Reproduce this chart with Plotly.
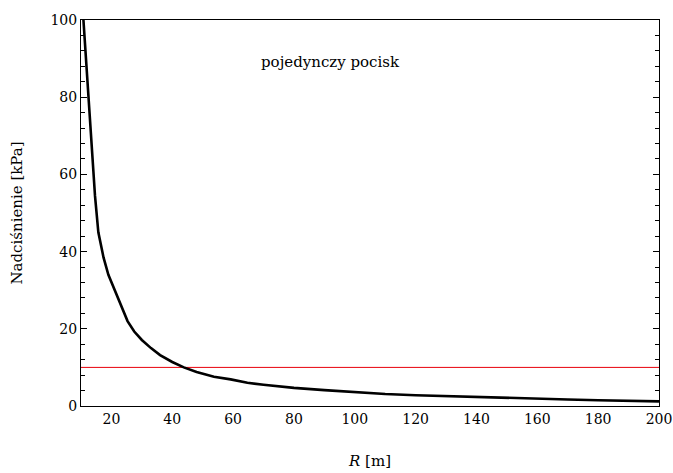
import plotly.graph_objects as go

# Data
R_m = [10.8, 12.0, 13.5, 14.6, 15.7, 17.4, 19.0, 20.7, 22.3, 23.8, 25.3, 27.5, 30.0, 33.0, 36.0, 40.0,
       43.8, 48.0, 53.7, 59.2, 64.7, 70.0, 75.7, 80.0, 90.0, 95.5, 100.0, 110.0, 120.0, 131.9, 140.0,
       150.0, 160.0, 170.0, 180.0, 190.0, 200.0]
P_kPa = [100.0, 85.0, 66.5, 54.5, 45.0, 38.5, 34.0, 30.8, 28.0, 25.0, 22.0, 19.3, 17.1, 15.0, 13.2, 11.4,
         10.0, 8.8, 7.6, 6.9, 6.0, 5.5, 5.0, 4.7, 4.1, 3.8, 3.5, 3.1, 2.8, 2.5, 2.3,
         2.1, 1.9, 1.7, 1.5, 1.35, 1.2]
threshold_kPa = 10
x_range = [10, 200]
y_range = [0, 100]
label_text = "pojedynczy pocisk"
label_pos = (92, 89)

FAM = "DejaVu Serif"
tick_font = dict(family=FAM, size=14, color="black")
text_font = dict(family=FAM, size=15, color="black")

fig = go.Figure()
fig.add_trace(go.Scatter(x=x_range, y=[threshold_kPa, threshold_kPa], mode="lines",
                         line=dict(color="#e8000b", width=1), showlegend=False))
fig.add_trace(go.Scatter(x=R_m, y=P_kPa, mode="lines",
                         line=dict(color="black", width=2.6), showlegend=False))

common = dict(tick0=0, dtick=20, ticklen=6, tickwidth=1, tickcolor="black",
              showgrid=False, zeroline=False, automargin=False, layer="above traces")
x_minor = dict(dtick=2, ticklen=4, tickwidth=1, tickcolor="black", showgrid=False)
y_minor = dict(dtick=4, ticklen=4, tickwidth=1, tickcolor="black", showgrid=False)

fig.update_layout(
    width=673, height=473,
    margin=dict(l=81, r=14, t=20, b=67, autoexpand=False),
    paper_bgcolor="white", plot_bgcolor="rgba(0,0,0,0)",
    font=text_font,
    annotations=[dict(x=label_pos[0], y=label_pos[1], xref="x", yref="y", text=label_text,
                      showarrow=False, font=text_font)],
    xaxis=dict(range=x_range, ticks="", showline=True, linecolor="black", linewidth=1, mirror=True,
               tickfont=tick_font, ticklabeloverflow="allow",
               title=dict(text="<i>R</i> [m]", standoff=29, font=text_font), **common),
    yaxis=dict(range=y_range, ticks="inside", showline=True, linecolor="black", linewidth=1,
               mirror="ticks", tickfont=tick_font, ticklabeloverflow="allow",
               minor=dict(ticks="inside", **y_minor),
               title=dict(text="Nadciśnienie [kPa]", standoff=24, font=text_font), **common),
    # tick-only overlay axis whose mirrored ticks supply the inside ticks along the bottom edge
    xaxis2=dict(range=x_range, overlaying="x", side="top", anchor="y", mirror="ticks",
                ticks="inside", showline=False, showticklabels=False,
                minor=dict(ticks="inside", **x_minor), **common),
)
fig.write_html("out.html")
